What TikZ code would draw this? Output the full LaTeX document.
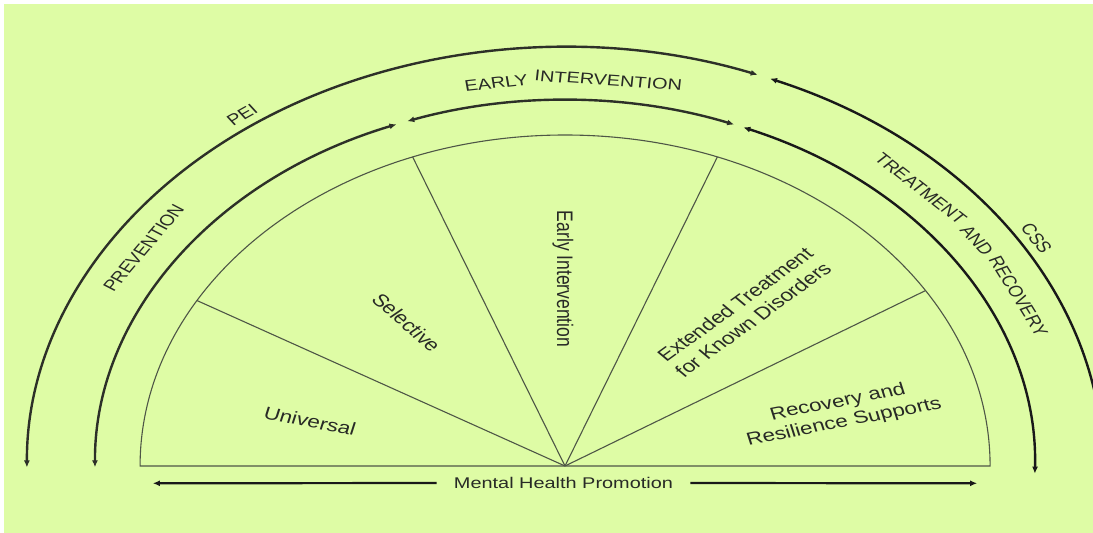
\documentclass[tikz,border=0pt]{standalone}
\usepackage{fontspec}
\setmainfont{Liberation Sans}
\usetikzlibrary{arrows.meta}
\definecolor{bggreen}{RGB}{222,252,165}
\definecolor{arcgray}{RGB}{45,48,40}
\definecolor{fangray}{RGB}{78,86,70}
\definecolor{txt}{RGB}{40,42,38}
\begin{document}
\begin{tikzpicture}[x=1pt,y=1pt,
  tipstyle/.style={},
  arcline/.style={line width=2.4pt, draw=arcgray},
  bothtips/.style={{Latex[length=7pt,width=6pt]}-{Latex[length=7pt,width=6pt]}},
  starttip/.style={{Latex[length=7pt,width=6pt]}-},
  endtip/.style={-{Latex[length=7pt,width=6pt]}},
  fanline/.style={line width=1.1pt, draw=fangray},
  arclabel/.style={text=txt, inner sep=0pt, font=\fontsize{15.5}{18}\selectfont},
  seclabel/.style={text=txt, inner sep=0pt, align=center, font=\fontsize{17.5}{20.5}\selectfont},
]
\useasboundingbox (0,0) rectangle (1093,533);
\fill[white] (0,0) rectangle (1093,533);
\fill[bggreen] (4,0) rectangle (1093,529);
\clip (0,0) rectangle (1093,533);
\begin{scope}[shift={(565,67)}, xscale=1.284, transform shape]
  \coordinate (C) at (0,0);
  % inner half disc
  \coordinate (iR) at (0:331);
  \coordinate (iL) at (180:331);
  \draw[fanline] (iR) arc[start angle=0, end angle=180, radius=331] -- cycle;
  \coordinate (f1) at (150:331);
  \coordinate (f2) at (111:331);
  \coordinate (f3) at (69:331);
  \coordinate (f4) at (32:331);
  \draw[fanline] (C) -- (f1);
  \draw[fanline] (C) -- (f2);
  \draw[fanline] (C) -- (f3);
  \draw[fanline] (C) -- (f4);
  % middle arcs
  \coordinate (mA) at (180.2:366);
  \coordinate (mB) at (109.6:366);
  \coordinate (mC) at (67.7:366);
  \draw[arcline, bothtips] (mA) arc[start angle=180.2, end angle=111.0, radius=366];
  \draw[arcline, bothtips] (mB) arc[start angle=109.6, end angle=68.9, radius=366];
  \draw[arcline, bothtips, draw=black!90] (mC) arc[start angle=67.7, end angle=-1.2, radius=366];
  % outer arcs
  \coordinate (oA) at (180.2:419);
  \coordinate (oB) at (67.6:419);
  \draw[arcline, bothtips] (oA) arc[start angle=180.2, end angle=69.0, radius=419];
  \draw[arcline, starttip, draw=black!90] (oB) arc[start angle=67.6, end angle=-3, radius=419];
  % arc labels
  \node[arclabel, rotate=56.4] (prev) at (146.4:394) {PREVENTION};
  \node[arclabel, rotate=35.6] (pei) at (125.6:432) {PEI};
  \node[arclabel, rotate=7.96] (ei1) at (97.96:387) {EARLY};
  \node[arclabel, rotate=-5.0] (ei2) at (85.0:387) {INTERVENTION};
  \node[arclabel, rotate=-44.97] (tr1) at (45.03:392) {TREATMENT};
  \node[arclabel, rotate=-54.91] (tr2) at (35.09:392) {AND};
  \node[arclabel, rotate=-64.29] (tr3) at (25.71:392) {RECOVERY};
  \node[arclabel, rotate=-58.2] (css) at (31.8:432) {CSS};
  % sector labels
  \node[seclabel, rotate=-14] (univ) at (-198.6,45) {Universal};
  \node[seclabel, rotate=-48.5] (sel) at (-123.4,143.5) {Selective};
  \node[seclabel, rotate=-90] (early) at (-1.6,187) {Early Intervention};
  \node[seclabel, rotate=43] (ext) at (139.4,154) {Extended Treatment\\for Known Disorders};
  \node[seclabel, rotate=14] (rec) at (215,53.5) {Recovery and\\Resilience Supports};
  % mental health promotion
  \node[arclabel] (mhp) at (-1.2,-17) {Mental Health Promotion};
  \coordinate (mhpL) at (-320.9,-17.3);
  \coordinate (mhpR) at (320.9,-17.3);
  \draw[arcline, draw=black!90, line width=2.2pt, endtip, shorten <=17pt] (mhp.west) -- (mhpL);
  \draw[arcline, draw=black!90, line width=2.2pt, endtip, shorten <=17pt] (mhp.east) -- (mhpR);
\end{scope}
\end{tikzpicture}
\end{document}
